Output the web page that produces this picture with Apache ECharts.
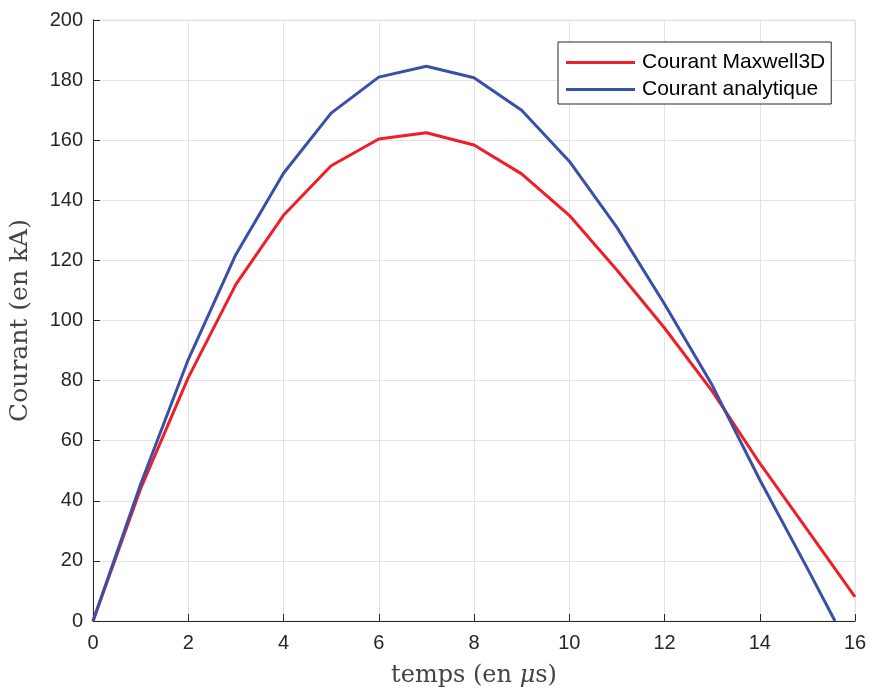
<!DOCTYPE html>
<html>
<head>
<meta charset="utf-8">
<script src="https://cdn.jsdelivr.net/npm/echarts@6/dist/echarts.min.js"></script>
<style>html,body{margin:0;padding:0;background:#fff;}#c{width:872px;height:691px;}</style>
</head>
<body>
<div id="c"></div>
<script>
const maxwellT = [0,1,2,3,4,5,6,7,8,9,10,11,12,13,14,15,16];
const maxwellI = [0,44,81,112,135,151.5,160.4,162.5,158.4,148.8,135,116.8,97.5,76.5,52.5,30.3,8];
const analytT = [0,1,2,3,4,5,6,7,8,9,10,11,12,13,14,15,15.58];
const analytI = [0,45.5,87,122,149,169,181,184.6,180.8,170,153,131,105.5,78.5,47,17.5,0];
const seriesNames = ['Courant Maxwell3D','Courant analytique'];

const chart = echarts.init(document.getElementById('c'));
const pair = (t, v) => t.map((x, i) => [x, v[i]]);
const labelStyle = {color:'#262626', fontFamily:'Liberation Sans, Arial, sans-serif', fontSize:20};
const serif = 'DejaVu Serif, Liberation Serif, serif';
chart.setOption({
  animation:false,
  backgroundColor:'#fff',
  grid:{left:93, right:17, top:20, bottom:70, show:true, borderColor:'#e3e3e3', borderWidth:1,
        containLabel:false, outerBoundsMode:'none'},
  legend:{
    orient:'vertical', left:558, top:42, icon:'rect', itemWidth:69, itemHeight:3, itemGap:6,
    padding:[10,6,4,8], borderColor:'#262626', borderWidth:1, backgroundColor:'#fff',
    textStyle:{color:'#000', fontFamily:'Liberation Sans, Arial, sans-serif', fontSize:21, padding:[0,0,0,2]},
    data:seriesNames
  },
  xAxis:{
    type:'value', min:0, max:16, interval:2,
    name:'temps (en {i|μ}s)', nameLocation:'middle', nameGap:43,
    nameTextStyle:{color:'#444', fontFamily:serif, fontSize:24,
      rich:{i:{fontStyle:'italic', color:'#444', fontFamily:serif, fontSize:24}}},
    axisLine:{show:true, onZero:false, lineStyle:{color:'#262626', width:1}},
    axisTick:{show:true, inside:true, length:7, lineStyle:{color:'#262626'}},
    axisLabel:Object.assign({margin:12}, labelStyle),
    splitLine:{show:true, lineStyle:{color:'#e3e3e3', width:1}}
  },
  yAxis:{
    type:'value', min:0, max:200, interval:20,
    name:'Courant (en kA)', nameLocation:'middle', nameGap:60,
    nameTextStyle:{color:'#444', fontFamily:serif, fontSize:25},
    axisLine:{show:true, onZero:false, lineStyle:{color:'#262626', width:1}},
    axisTick:{show:true, inside:true, length:7, lineStyle:{color:'#262626'}},
    axisLabel:Object.assign({margin:10}, labelStyle),
    splitLine:{show:true, lineStyle:{color:'#e3e3e3', width:1}}
  },
  series:[
    {name:seriesNames[0], type:'line', data:pair(maxwellT, maxwellI), showSymbol:false, symbol:'none',
     lineStyle:{color:'#ee1f29', width:3}, itemStyle:{color:'#ee1f29'}, z:2},
    {name:seriesNames[1], type:'line', data:pair(analytT, analytI), showSymbol:false, symbol:'none',
     lineStyle:{color:'#3a4fa6', width:3}, itemStyle:{color:'#3a4fa6'}, z:3}
  ]
});
</script>
</body>
</html>
